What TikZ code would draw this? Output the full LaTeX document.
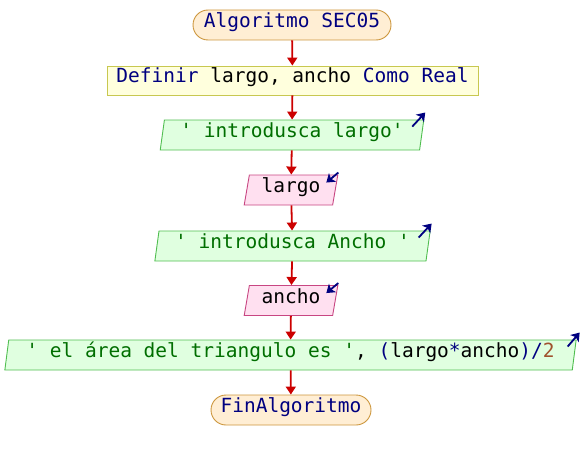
\documentclass[tikz,border=0pt]{standalone}
\usepackage{fontspec}
\usetikzlibrary{shapes.geometric,arrows.meta}
\newfontfamily\codefont{DejaVu Sans Mono}

\definecolor{kwcol}{RGB}{0,0,128}
\definecolor{strcol}{RGB}{0,110,0}
\definecolor{numcol}{RGB}{160,82,45}
\definecolor{flowcol}{RGB}{204,0,0}
\definecolor{termfill}{RGB}{255,238,212}
\definecolor{termdraw}{RGB}{204,150,60}
\definecolor{deffill}{RGB}{255,255,221}
\definecolor{defdraw}{RGB}{200,200,80}
\definecolor{outfill}{RGB}{224,255,224}
\definecolor{outdraw}{RGB}{80,190,80}
\definecolor{infill}{RGB}{255,224,240}
\definecolor{indraw}{RGB}{200,70,130}

\newcommand{\kw}[1]{\textcolor{kwcol}{#1}}
\newcommand{\str}[1]{\textcolor{strcol}{#1}}
\newcommand{\num}[1]{\textcolor{numcol}{#1}}

\tikzset{
  base/.style={font=\codefont\fontsize{19.5}{23}\selectfont, text height=0.75em, text depth=0.25em, inner sep=0pt, line width=0.9pt},
  terminal/.style={base, draw=termdraw, fill=termfill, rectangle, rounded corners=15pt, minimum height=30pt},
  defbox/.style={base, draw=defdraw, fill=deffill, rectangle, minimum height=29pt},
  iobox/.style={base, trapezium, trapezium left angle=70, trapezium right angle=110, trapezium stretches=true, minimum height=30pt},
  outbox/.style={iobox, draw=outdraw, fill=outfill},
  inbox/.style={iobox, draw=indraw, fill=infill},
  flow/.style={draw=flowcol, line width=1.8pt, -{Triangle[width=10pt,length=8pt]}},
  icon/.style={draw=kwcol, line width=1.8pt, -{Stealth[width=11pt,length=8pt,inset=2pt]}}
}

\begin{document}
\begin{tikzpicture}[x=1pt,y=-1pt]
  \useasboundingbox (0,0) rectangle (584,460);

  \node[terminal, minimum width=198pt] (start) at (292,25) {\kw{Algoritmo SEC05}};
  \node[defbox, minimum width=371pt] (def) at (292.5,80.5) {\kw{Definir} largo, ancho \kw{Como Real}};
  \node[outbox, minimum width=264pt] (out1) at (292,135) {\str{' introdusca largo'}};
  \node[inbox, minimum width=94pt] (in1) at (291,190) {largo};
  \node[outbox, minimum width=276pt] (out2) at (292.5,246) {\str{' introdusca Ancho '}};
  \node[inbox, minimum width=94pt] (in2) at (291,300.5) {ancho};
  \node[outbox, minimum width=573pt] (out3) at (290.5,355) {\str{' el área del triangulo es '}, \kw{(}largo\kw{*}ancho\kw{)/}\num{2}};
  \node[terminal, minimum width=160pt] (end) at (291,410) {\kw{FinAlgoritmo}};

  % flow connectors
  \draw[flow] (start) -- (def);
  \draw[flow] (def) -- (out1);
  \draw[flow] (out1) -- (in1);
  \draw[flow] (in1) -- (out2);
  \draw[flow] (out2) -- (in2);
  \draw[flow] (in2) -- (out3);
  \draw[flow] (out3) -- (end);

  % output / input markers
  \draw[icon] ([shift={(-12,7)}]out1.top right corner) -- ++(13,-14);
  \draw[icon] ([shift={(-12,7)}]out2.top right corner) -- ++(13,-14);
  \draw[icon] ([shift={(-9,7)}]out3.top right corner) -- ++(12,-14);
  \draw[icon] ([shift={(0,-2)}]in1.top right corner) -- ++(-12,10);
  \draw[icon] ([shift={(0,-2)}]in2.top right corner) -- ++(-12,10);
\end{tikzpicture}
\end{document}
